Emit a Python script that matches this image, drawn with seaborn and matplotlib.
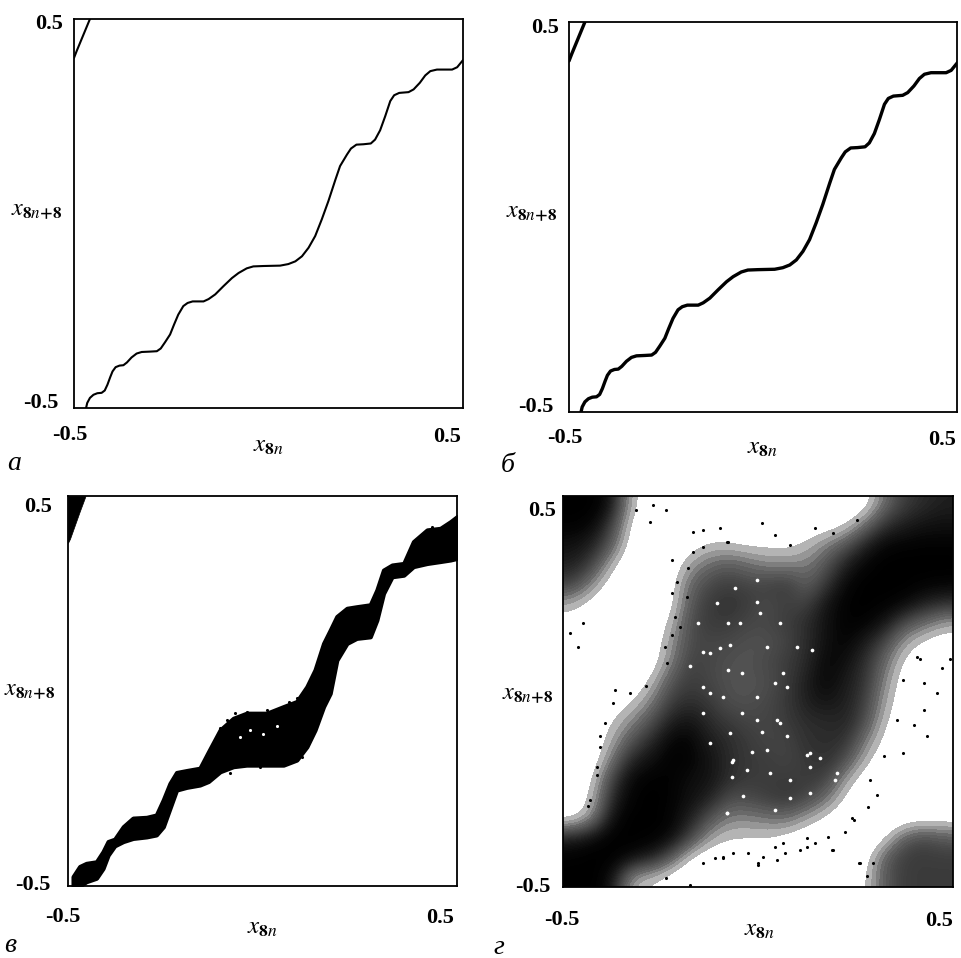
import numpy as np
import pandas as pd
import matplotlib.pyplot as plt
import seaborn as sns

sns.set_theme(style='white')
plt.rcParams['font.family'] = ['Liberation Serif', 'DejaVu Serif']
plt.rcParams['mathtext.fontset'] = 'stix'

# 얇은 곡선 (a, b) - 그림에서 읽은 값
curve_x = [-0.469, -0.466, -0.459, -0.450, -0.440, -0.429, -0.421, -0.414, -0.407, -0.401, -0.393,
           -0.383, -0.373, -0.364, -0.352, -0.339, -0.326, -0.304, -0.287, -0.277, -0.266, -0.253,
           -0.243, -0.232, -0.219, -0.208, -0.195, -0.167, -0.154, -0.137, -0.116, -0.094, -0.077,
           -0.056, -0.039, -0.013, 0.030, 0.051, 0.069, 0.086, 0.103, 0.120, 0.137, 0.154, 0.172,
           0.184, 0.202, 0.212, 0.226, 0.244, 0.263, 0.274, 0.287, 0.300, 0.313, 0.323, 0.336,
           0.360, 0.373, 0.389, 0.403, 0.416, 0.433, 0.472, 0.485, 0.503]
curve_y = [-0.500, -0.487, -0.474, -0.466, -0.462, -0.461, -0.455, -0.440, -0.421, -0.406, -0.395,
           -0.391, -0.390, -0.383, -0.370, -0.360, -0.356, -0.355, -0.354, -0.347, -0.331, -0.311,
           -0.286, -0.260, -0.238, -0.230, -0.226, -0.226, -0.220, -0.208, -0.187, -0.166, -0.153,
           -0.141, -0.136, -0.135, -0.134, -0.130, -0.123, -0.110, -0.088, -0.058, -0.015, 0.032,
           0.087, 0.122, 0.152, 0.167, 0.177, 0.178, 0.180, 0.190, 0.214, 0.250, 0.289, 0.304,
           0.310, 0.312, 0.319, 0.336, 0.355, 0.366, 0.370, 0.370, 0.376, 0.398]
branch_x = [-0.500, -0.493, -0.459]
branch_y = [0.400, 0.418, 0.500]

# 띠 (c)
band_x = [-0.487, -0.470, -0.453, -0.427, -0.410, -0.397, -0.380, -0.358, -0.333, -0.298, -0.273,
          -0.255, -0.238, -0.221, -0.195, -0.161, -0.139, -0.109, -0.075, -0.041, 0.011, 0.054,
          0.088, 0.114, 0.135, 0.157, 0.174, 0.191, 0.217, 0.242, 0.277, 0.294, 0.311, 0.333,
          0.363, 0.388, 0.423, 0.457, 0.483, 0.500]
band_hi = [-0.476, -0.450, -0.442, -0.438, -0.412, -0.386, -0.380, -0.348, -0.326, -0.324, -0.318,
           -0.279, -0.237, -0.209, -0.204, -0.198, -0.156, -0.100, -0.070, -0.057, -0.057, -0.040,
           -0.027, 0.011, 0.054, 0.122, 0.156, 0.191, 0.212, 0.216, 0.221, 0.259, 0.310, 0.323,
           0.327, 0.383, 0.413, 0.417, 0.434, 0.447]
band_lo = [-0.500, -0.500, -0.489, -0.480, -0.455, -0.421, -0.397, -0.386, -0.378, -0.374, -0.369,
           -0.348, -0.301, -0.254, -0.247, -0.241, -0.232, -0.207, -0.194, -0.190, -0.190, -0.190,
           -0.177, -0.143, -0.100, -0.040, -0.006, 0.079, 0.122, 0.135, 0.139, 0.182, 0.250, 0.293,
           0.297, 0.319, 0.327, 0.332, 0.336, 0.340]
corner_x = [-0.500, -0.495, -0.470, -0.455]
corner_lo = [0.380, 0.390, 0.460, 0.500]
corner_hi = [0.500, 0.500, 0.500, 0.500]
stray_c_x = [-0.071, -0.041, -0.109, 0.036, 0.067, 0.011, 0.088, -0.127, -0.092, -0.015, 0.049,
             0.101, -0.084, -0.006, 0.436, 0.483]
stray_c_y = [-0.057, -0.053, -0.096, -0.053, -0.027, -0.049, -0.019, -0.134, -0.074, -0.066,
             -0.066, -0.168, -0.211, -0.194, 0.421, 0.430]
fleck_c_x = [-0.032, 0.002, -0.058, 0.036]
fleck_c_y = [-0.100, -0.109, -0.117, -0.091]

# 점 구름 (d) - 칸별 검은 정도, 위쪽 행부터
cell_x = [-0.475, -0.425, -0.375, -0.325, -0.275, -0.225, -0.175, -0.125, -0.075, -0.025,
          0.025, 0.075, 0.125, 0.175, 0.225, 0.275, 0.325, 0.375, 0.425, 0.475]
cell_y = [0.475, 0.425, 0.375, 0.325, 0.275, 0.225, 0.175, 0.125, 0.075, 0.025,
          -0.025, -0.075, -0.125, -0.175, -0.225, -0.275, -0.325, -0.375, -0.425, -0.475]
row01 = [1, 1, 1, .3, .05, 0, 0, 0, 0, 0, 0, 0, 0, 0, 0, 0, .6, .8, .85, .9]
row02 = [1, 1, .8, .1, .02, 0, .02, 0, .02, .02, .03, .05, .1, .1, .2, .6, .85, .9, .95, .95]
row03 = [.95, .9, .7, 0, 0, 0, .15, .35, .3, .2, .25, .2, .35, .55, .7, .9, 1, 1, 1, 1]
row04 = [.9, .8, .3, 0, 0, 0, .45, .6, .7, .6, .5, .5, .5, .7, .9, 1, 1, 1, 1, 1]
row05 = [.8, .5, .1, 0, 0, .05, .65, .75, .8, .75, .8, .85, .6, .8, 1, 1, 1, 1, 1, 1]
row06 = [.4, .15, 0, 0, 0, .05, .7, .8, .85, .8, .7, .8, .75, .95, 1, 1, 1, 1, .9, .85]
row07 = [.15, .02, 0, 0, 0, .3, .75, .8, .8, .75, .75, .8, .85, .95, 1, 1, .95, .7, .6, .4]
row08 = [.02, 0, 0, 0, 0, .45, .75, .75, .75, .7, .7, .75, .85, .95, 1, .9, .75, .4, .2, .1]
row09 = [0, 0, 0, 0, .02, .5, .8, .75, .7, .7, .75, .8, .85, 1, .95, .85, .6, .2, .1, .05]
row10 = [0, 0, 0, .02, .3, .7, .8, .75, .7, .7, .7, .8, .9, 1, .9, .85, .5, .1, .03, .02]
row11 = [0, 0, .1, .25, .5, .8, .85, .8, .7, .7, .75, .8, .9, .95, .9, .8, .4, .1, .02, 0]
row12 = [0, 0, .3, .5, .7, .9, .95, .85, .8, .75, .75, .8, .85, .85, .9, .75, .3, .03, .01, 0]
row13 = [0, 0, .4, .7, .85, 1, 1, .9, .85, .8, .75, .75, .85, .85, .85, .55, .2, .01, 0, 0]
row14 = [0, .02, .55, .9, .95, 1, 1, .95, .85, .8, .8, .75, .8, .85, .75, .35, .05, 0, 0, 0]
row15 = [0, .2, .8, 1, 1, 1, .95, .95, .85, .8, .8, .8, .8, .8, .4, .1, 0, 0, 0, 0]
row16 = [0, .3, .9, 1, 1, 1, .95, .9, .7, .75, .8, .85, .75, .6, .2, .02, 0, 0, 0, 0]
row17 = [.05, .4, 1, 1, 1, 1, .9, .7, .5, .5, .55, .6, .4, .2, .02, 0, 0, 0, 0, 0]
row18 = [.95, 1, 1, 1, 1, 1, .8, .4, .3, .3, .3, .15, .05, .02, 0, 0, .15, .7, .8, .7]
row19 = [1, 1, 1, 1, .95, .7, .15, .1, .1, .03, .02, .01, 0, 0, 0, .05, .7, .8, .8, .8]
row20 = [1, 1, 1, .3, .3, .1, 0, 0, 0, 0, 0, 0, 0, 0, 0, .2, .7, .8, .8, .8]
rows_d = [row01, row02, row03, row04, row05, row06, row07, row08, row09, row10,
          row11, row12, row13, row14, row15, row16, row17, row18, row19, row20]
stray_d_x = [-0.277, -0.235, -0.269, -0.312, -0.166, -0.140, -0.076, 0.009, -0.098, 0.044, 0.146,
             -0.461, -0.367, -0.406, 0.472, 0.459, 0.433, 0.399, 0.425, 0.373, 0.189, 0.262,
             0.001, 0.048, -0.175, -0.235, -0.436, -0.414, 0.416, 0.493, 0.425,
             0.192, 0.000, 0.108, 0.069, 0.146, 0.013, -0.026, -0.064, -0.090, -0.110, 0.223,
             0.241, 0.282, 0.305, 0.259, 0.179, 0.126, 0.044,
             -0.221, -0.221, -0.213, -0.238, -0.233, -0.221, -0.179, -0.167, -0.208, -0.182,
             -0.200, -0.141, -0.079,
             -0.372, -0.393, -0.406, -0.414, -0.432, -0.329, -0.286, -0.483, -0.449,
             0.356, 0.322, 0.288, 0.373, 0.408, 0.245, 0.125, 0.065, -0.089, -0.140, 0.193,
             0.253, 0.082, 0.279, 0.296]
stray_d_y = [0.434, 0.464, 0.477, 0.464, 0.409, 0.413, 0.383, 0.430, 0.417, 0.400, 0.417,
             0.115, 0.004, -0.115, 0.059, -0.005, -0.115, -0.085, -0.047, -0.158, -0.405, -0.439,
             -0.443, -0.430, -0.494, -0.477, -0.294, -0.213, 0.082, 0.082, 0.021,
             -0.405, -0.439, -0.405, -0.413, -0.387, -0.423, -0.413, -0.413, -0.426, -0.426, -0.359,
             -0.323, -0.295, -0.265, -0.439, -0.372, -0.398, -0.398,
             0.336, 0.252, 0.191, 0.114, 0.073, 0.145, 0.315, 0.357, 0.280, 0.242,
             0.165, 0.370, 0.383,
             -0.030, -0.081, -0.141, -0.192, -0.277, -0.004, 0.013, 0.149, 0.175,
             -0.072, -0.166, -0.226, 0.030, 0.089, -0.328, -0.375, -0.388, -0.422, -0.439, 0.405,
             0.439, 0.375, -0.473, -0.439]
fleck_d_x = [-0.098, -0.072, 0.005, 0.044, -0.076, -0.140, -0.046, 0.065, -0.123, -0.089, -0.003,
             0.048, -0.072, -0.063, 0.022, 0.134, 0.202, -0.038, 0.082, -0.080, -0.029, 0.134,
             0.074, -0.140, -0.175, -0.153, -0.106, -0.003, 0.057, 0.099,
             -0.059, -0.003, -0.077, 0.023, -0.141, 0.074, -0.041, 0.138, -0.003, -0.123,
             -0.041, 0.056, 0.010, -0.015, -0.067, -0.067, 0.082, 0.126, 0.159, 0.197, 0.287,
             0.031, 0.133, -0.123, -0.079, 0.044]
fleck_d_y = [0.111, 0.119, 0.200, 0.021, 0.055, 0.102, 0.175, 0.047, -0.004, -0.013, -0.072,
             -0.072, -0.106, -0.175, -0.149, -0.158, -0.209, -0.268, -0.226, -0.311, -0.200, -0.192,
             -0.115, -0.055, 0.064, 0.175, 0.226, 0.285, 0.175, 0.115,
             0.265, 0.229, 0.175, 0.114, 0.012, 0.012, 0.047, 0.106, -0.014, 0.098,
             -0.055, -0.081, -0.104, -0.155, -0.180, -0.219, -0.272, -0.162, -0.170, -0.226, -0.214,
             -0.208, -0.260, -0.132, -0.311, -0.303]

tick_labels = ['-0.5', '0.5']
panel_letters = ['а', 'б', 'в', 'г']

W, H = 961, 958
fig = plt.figure(figsize=(W / 100, H / 100), dpi=100)


def make_axes(left, right, top, bottom):
    ax = fig.add_axes([left / W, 1 - bottom / H, (right - left) / W, (bottom - top) / H])
    for s in ax.spines.values():
        s.set_visible(True)
        s.set_color('black')
        s.set_linewidth(1.3)
    return ax


def put(x, y, s, size=16, **kw):
    fig.text(x / W, 1 - y / H, s, ha='center', va='center', fontsize=size, color='black', **kw)


def tidy(ax):
    ax.set_xlim(-0.5, 0.5)
    ax.set_ylim(-0.5, 0.5)
    ax.set_xlabel('')
    ax.set_ylabel('')
    ax.set_xticks([])
    ax.set_yticks([])


def draw_curve(ax, lw):
    sns.lineplot(x=curve_x, y=curve_y, ax=ax, color='black', lw=lw, sort=False, estimator=None,
                 solid_joinstyle='round')
    sns.lineplot(x=branch_x, y=branch_y, ax=ax, color='black', lw=lw, sort=False, estimator=None)
    tidy(ax)


ax_a = make_axes(74, 463, 19, 408)
draw_curve(ax_a, 1.5)
ax_b = make_axes(569, 957, 22, 412)
draw_curve(ax_b, 2.4)

# c : 위아래 경계를 읽어서 채움
ax_c = make_axes(68, 457, 496, 886)
ax_c.fill_between(band_x, band_lo, band_hi, color='black', lw=3, joinstyle='round')
ax_c.fill_between(corner_x, corner_lo, corner_hi, color='black', lw=0.5)
sns.scatterplot(x=stray_c_x, y=stray_c_y, ax=ax_c, color='black', s=5, linewidth=0)
sns.scatterplot(x=fleck_c_x, y=fleck_c_y, ax=ax_c, color='white', s=5, linewidth=0)
tidy(ax_c)

# d : 칸 값으로 밀도 그림 (가장자리는 잘리지 않게 두 칸씩 늘림)
ax_d = make_axes(563, 953, 496, 887)
grid = np.pad(np.array(rows_d, dtype=float), 2, mode='edge')
px = np.pad(np.array(cell_x), 2, mode='linear_ramp', end_values=(-0.575, 0.575))
py = np.pad(np.array(cell_y), 2, mode='linear_ramp', end_values=(0.575, -0.575))
gx, gy = np.meshgrid(px, py)
df_d = pd.DataFrame({'x': gx.ravel(), 'y': gy.ravel(), 'w': grid.ravel() ** 1.5})
df_d = df_d[df_d['w'] > 0]
cloud_cmap = sns.blend_palette(['#c4c4c4', '#6a6a6a', '#383838', '#000000'], as_cmap=True)
sns.kdeplot(data=df_d, x='x', y='y', weights='w', ax=ax_d, fill=True, levels=40, thresh=0.03,
            cmap=cloud_cmap, bw_adjust=0.25, gridsize=300, cut=1,
            clip=((-0.5, 0.5), (-0.5, 0.5)))
sns.scatterplot(x=stray_d_x, y=stray_d_y, ax=ax_d, color='black', s=5, linewidth=0)
sns.scatterplot(x=fleck_d_x, y=fleck_d_y, ax=ax_d, color='white', s=7, linewidth=0)
tidy(ax_d)

# 글자 위치
xlab = r'$x_{\mathbf{8}n}$'
ylab = r'$x_{\mathbf{8}n\mathbf{+8}}$'
places = [
    [(49, 24), (41, 403), (70, 435), (447, 437), (268, 446), (37, 211), (14, 463)],
    [(545, 28), (536, 407), (565, 438), (942, 440), (762, 448), (532, 213), (508, 465)],
    [(38, 507), (33, 885), (63, 917), (440, 918), (262, 928), (30, 692), (10, 945)],
    [(542, 511), (533, 887), (562, 920), (939, 921), (759, 930), (528, 695), (499, 947)],
]
for p, letter in zip(places, panel_letters):
    put(*p[0], tick_labels[1], weight='bold')
    put(*p[1], tick_labels[0], weight='bold')
    put(*p[2], tick_labels[0], weight='bold')
    put(*p[3], tick_labels[1], weight='bold')
    put(*p[4], xlab, size=18)
    put(*p[5], ylab, size=17.5)
    put(*p[6], letter, size=20, style='italic')

fig.savefig('out.png', dpi=100, facecolor='white')
